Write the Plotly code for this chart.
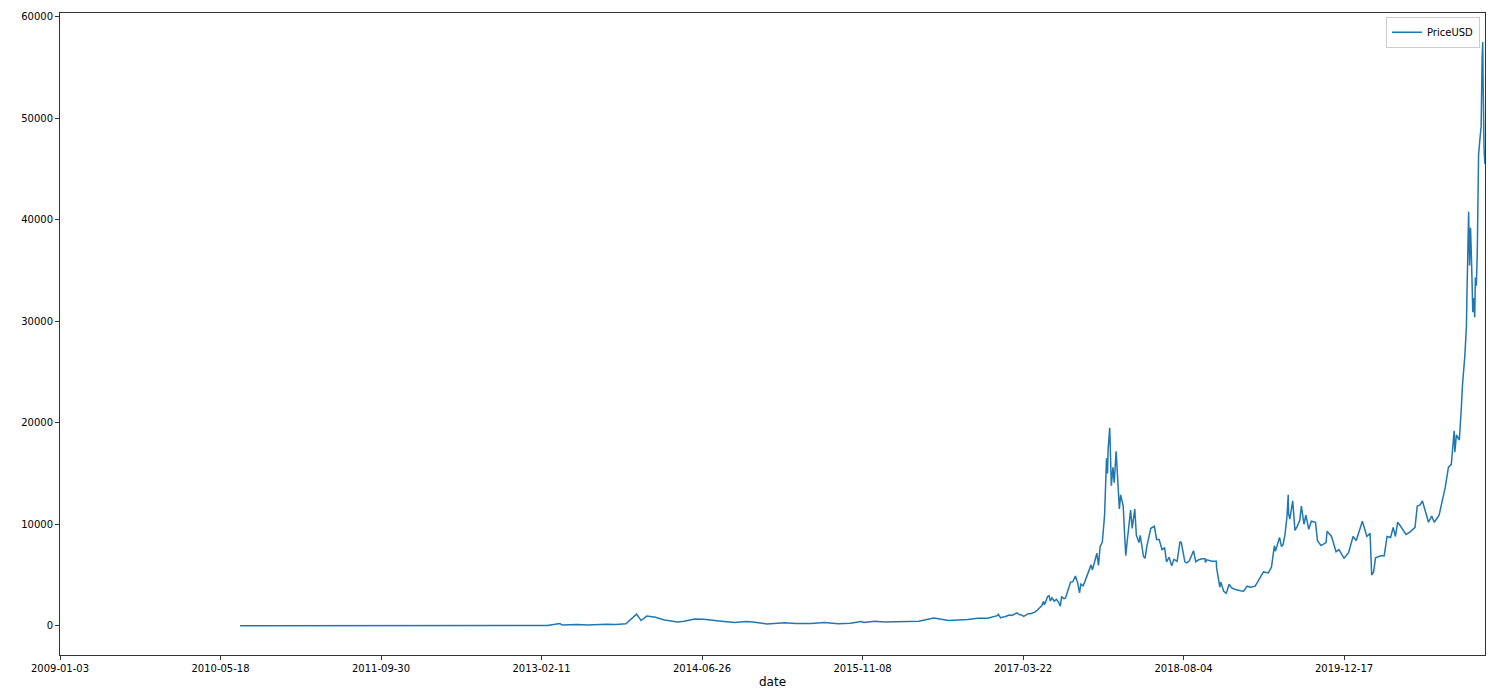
import plotly.graph_objects as go

# Bitcoin price (approximate values)
dates = [
    '2010-07-18', '2010-10-01', '2011-01-01', '2011-03-01', '2011-06-08', '2011-07-01',
    '2011-10-01', '2011-11-18', '2012-01-01', '2012-06-01', '2012-08-15', '2012-11-01',
    '2013-01-01', '2013-02-11', '2013-03-01', '2013-04-09', '2013-04-16', '2013-06-01',
    '2013-07-05', '2013-09-01', '2013-10-01', '2013-11-01', '2013-11-18', '2013-12-04',
    '2013-12-18', '2014-01-05', '2014-02-01', '2014-02-25', '2014-03-01', '2014-04-11',
    '2014-05-01', '2014-06-03', '2014-07-01', '2014-08-18', '2014-09-20', '2014-10-05',
    '2014-11-12', '2014-12-01', '2015-01-14', '2015-02-01', '2015-03-11', '2015-04-14',
    '2015-06-01', '2015-07-12', '2015-08-24', '2015-10-01', '2015-11-04', '2015-11-12',
    '2015-12-16', '2016-01-15', '2016-03-01', '2016-05-01', '2016-06-17', '2016-07-01',
    '2016-08-02', '2016-10-01', '2016-11-01', '2016-12-01',
    # 2017
    '2017-01-01', '2017-01-04', '2017-01-11', '2017-01-18', '2017-01-25', '2017-02-01',
    '2017-02-08', '2017-02-15', '2017-02-22', '2017-03-01', '2017-03-03', '2017-03-10',
    '2017-03-17', '2017-03-24', '2017-03-31', '2017-04-07', '2017-04-14', '2017-04-21',
    '2017-04-28', '2017-05-05', '2017-05-12', '2017-05-19', '2017-05-25', '2017-05-27',
    '2017-06-01', '2017-06-06', '2017-06-11', '2017-06-15', '2017-06-20', '2017-06-27',
    '2017-07-04', '2017-07-11', '2017-07-16', '2017-07-20', '2017-07-27', '2017-08-01',
    '2017-08-08', '2017-08-15', '2017-08-17', '2017-08-24', '2017-09-01', '2017-09-08',
    '2017-09-14', '2017-09-18', '2017-09-25', '2017-10-01', '2017-10-12', '2017-10-20',
    '2017-10-24', '2017-10-31', '2017-11-07', '2017-11-12', '2017-11-17', '2017-11-24',
    '2017-11-28', '2017-12-01', '2017-12-07', '2017-12-10', '2017-12-12', '2017-12-17',
    '2017-12-22', '2017-12-27', '2017-12-31',
    # 2018
    '2018-01-06', '2018-01-10', '2018-01-16', '2018-01-20', '2018-01-28', '2018-02-01',
    '2018-02-05', '2018-02-09', '2018-02-15', '2018-02-20', '2018-02-25', '2018-03-05',
    '2018-03-10', '2018-03-18', '2018-03-22', '2018-04-01', '2018-04-06', '2018-04-12',
    '2018-04-24', '2018-05-05', '2018-05-12', '2018-05-20', '2018-05-29', '2018-06-06',
    '2018-06-12', '2018-06-20', '2018-06-28', '2018-07-05', '2018-07-15', '2018-07-24',
    '2018-07-28', '2018-08-08', '2018-08-14', '2018-08-22', '2018-08-30', '2018-09-04',
    '2018-09-11', '2018-09-20', '2018-10-01', '2018-10-10', '2018-10-11', '2018-10-15',
    '2018-11-01', '2018-11-14', '2018-11-15', '2018-11-20', '2018-11-25', '2018-11-28',
    '2018-12-07', '2018-12-15', '2018-12-24', '2018-12-31',
    # 2019
    '2019-01-10', '2019-01-28', '2019-02-07', '2019-02-18', '2019-03-01', '2019-03-15',
    '2019-04-02', '2019-04-10', '2019-04-25', '2019-05-05', '2019-05-14', '2019-05-17',
    '2019-05-30', '2019-06-05', '2019-06-10', '2019-06-16', '2019-06-22', '2019-06-26',
    '2019-06-27', '2019-07-01', '2019-07-10', '2019-07-17', '2019-07-24', '2019-08-01',
    '2019-08-06', '2019-08-14', '2019-08-20', '2019-08-29', '2019-09-06', '2019-09-19',
    '2019-09-25', '2019-10-06', '2019-10-22', '2019-10-25', '2019-11-08', '2019-11-22',
    '2019-12-01', '2019-12-17', '2019-12-31',
    # 2020
    '2020-01-14', '2020-01-24', '2020-02-03', '2020-02-12', '2020-02-26', '2020-03-07',
    '2020-03-12', '2020-03-18', '2020-03-24', '2020-04-02', '2020-04-10', '2020-04-20',
    '2020-04-29', '2020-05-10', '2020-05-18', '2020-05-25', '2020-06-01', '2020-06-10',
    '2020-06-27', '2020-07-10', '2020-07-25', '2020-08-01', '2020-08-10', '2020-08-17',
    '2020-08-25', '2020-09-05', '2020-09-15', '2020-09-23', '2020-10-08', '2020-10-21',
    '2020-10-27', '2020-11-06', '2020-11-15', '2020-11-24', '2020-11-26', '2020-12-01',
    '2020-12-10', '2020-12-16', '2020-12-20', '2020-12-27',
    # 2021
    '2021-01-01', '2021-01-03', '2021-01-08', '2021-01-11', '2021-01-14', '2021-01-17',
    '2021-01-21', '2021-01-24', '2021-01-27', '2021-01-29', '2021-02-01', '2021-02-04',
    '2021-02-08', '2021-02-12', '2021-02-16', '2021-02-19', '2021-02-21', '2021-02-22',
    '2021-02-23', '2021-02-25', '2021-02-26', '2021-02-28',
]
price_usd = [
    0.09, 0.06, 0.3, 0.9, 30, 16,
    5, 2.2, 5, 5.2, 12, 10.5,
    13.5, 24, 34, 230, 70, 129,
    68, 140, 125, 200, 700, 1150,
    520, 950, 830, 540, 560, 380,
    450, 670, 640, 480, 400, 320,
    420, 380, 180, 230, 295, 220,
    225, 310, 210, 237, 410, 320,
    450, 370, 430, 450, 760, 670,
    520, 610, 730, 750,
    # 2017
    1000, 1135, 780, 870, 890, 990,
    1050, 1010, 1120, 1220, 1280, 1100,
    1070, 930, 1070, 1190, 1180, 1240,
    1340, 1530, 1700, 1960, 2400, 2050,
    2400, 2870, 2960, 2440, 2750, 2420,
    2600, 2310, 1930, 2870, 2670, 2720,
    3400, 4200, 4300, 4330, 4900, 4230,
    3230, 4100, 3930, 4400, 5430, 6000,
    5500, 6470, 7140, 5950, 7800, 8250,
    9900, 10900, 16500, 15000, 17400, 19500,
    13800, 15600, 14100,
    # 2018
    17200, 14900, 11500, 12900, 11800, 9200,
    6900, 8200, 10100, 11400, 9600, 11500,
    8900, 8200, 8900, 6850, 6640, 7900,
    9600, 9800, 8500, 8500, 7500, 7700,
    6300, 6750, 5900, 6550, 6350, 8300,
    8200, 6300, 6200, 6400, 7000, 7400,
    6300, 6500, 6600, 6600, 6250, 6500,
    6350, 6350, 5700, 4500, 3800, 4300,
    3400, 3200, 4100, 3750,
    # 2019
    3600, 3450, 3400, 3900, 3800, 3900,
    4900, 5300, 5200, 5800, 7900, 7350,
    8700, 7800, 8000, 9000, 10700, 12900,
    11100, 10500, 12300, 9400, 9800, 10400,
    11800, 10000, 10900, 9500, 10300, 10200,
    8400, 7900, 8200, 9300, 8800, 7300,
    7500, 6650, 7200,
    # 2020
    8800, 8400, 9300, 10300, 8800, 9100,
    5000, 5300, 6700, 6800, 6900, 6900,
    8800, 8700, 9700, 8800, 10200, 9800,
    9000, 9250, 9700, 11800, 11900, 12300,
    11400, 10200, 10800, 10200, 10900, 12800,
    13600, 15600, 15900, 19200, 17100, 18800,
    18300, 21300, 23800, 26500,
    # 2021
    29400, 32900, 40800, 35500, 39200, 36000,
    30900, 32300, 30400, 34300, 33500, 36900,
    46400, 47900, 49200, 55900, 57500, 54000,
    48900, 47000, 46300, 45500,
]

x_ticks = ['2009-01-03', '2010-05-18', '2011-09-30', '2013-02-11', '2014-06-26',
           '2015-11-08', '2017-03-22', '2018-08-04', '2019-12-17']
y_ticks = [0, 10000, 20000, 30000, 40000, 50000, 60000]

fig = go.Figure()
fig.add_trace(go.Scatter(x=dates, y=price_usd, mode='lines', name='PriceUSD',
                         line=dict(color='#1f77b4', width=1.5)))

axis_style = dict(showline=True, linecolor='#333333', linewidth=1, mirror=True,
                  ticks='outside', ticklen=4, tickcolor='#333333', tickwidth=1,
                  showgrid=False, zeroline=False, automargin=False)

# the page body adds 8px around the figure, so the figure is a bit smaller
fig.update_layout(
    width=1483, height=681,
    margin=dict(l=52, r=6, t=5, b=34),
    paper_bgcolor='white', plot_bgcolor='white',
    font=dict(family='DejaVu Sans', size=10, color='#000000'),
    showlegend=True,
    legend=dict(x=0.9965, xanchor='right', y=0.994, yanchor='top',
                bgcolor='rgba(255,255,255,0.8)', bordercolor='#cccccc', borderwidth=1,
                font=dict(size=10)),
    xaxis=dict(type='date', range=['2009-01-03', '2021-02-28'],
               tickmode='array', tickvals=x_ticks, ticktext=x_ticks,
               title=dict(text='date', standoff=4), **axis_style),
    yaxis=dict(range=[-2880, 60370], tickmode='array', tickvals=y_ticks,
               ticktext=[str(v) for v in y_ticks], **axis_style),
)

fig.write_html('out.html')
